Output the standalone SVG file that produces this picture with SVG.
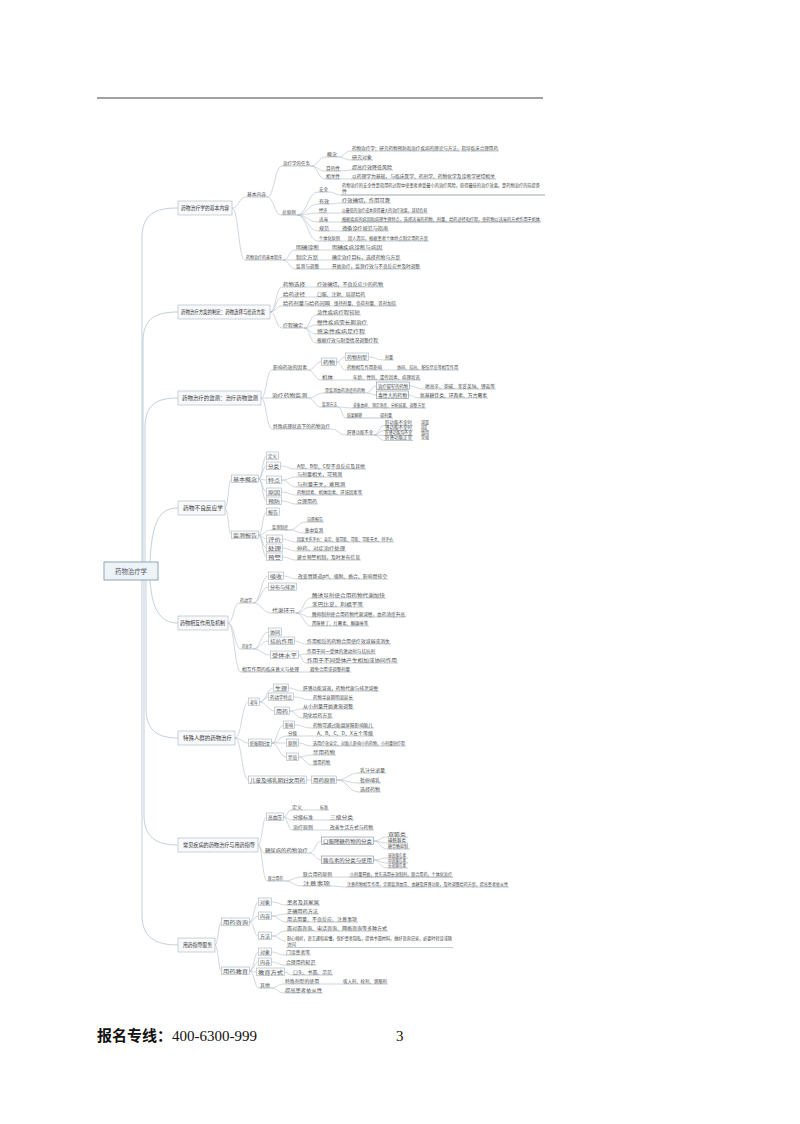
<svg xmlns="http://www.w3.org/2000/svg" width="800" height="1124" viewBox="0 0 800 1124">
<style>
text{font-family:"Noto Sans CJK SC","Noto Sans",sans-serif;fill:#4a4a4a;font-size:5px}
.t1{font-size:5.5px;fill:#383838}
.t4{font-size:4.2px}
.u{stroke:#a3b1bd;stroke-width:0.7;fill:none}
.uk{stroke:#9aa6b0;stroke-width:1.1;fill:none}
.b{fill:#fbfcfd;stroke:#a6b3be;stroke-width:0.6}
.B{fill:#f7f9fa;stroke:#b5c1ca;stroke-width:0.7}
.c{fill:none;stroke:#b0bcc6;stroke-width:0.6}
.r{fill:none;stroke:#a9bccb;stroke-width:0.7}
</style>
<rect width="800" height="1124" fill="#ffffff"/>
<line x1="97" y1="98" x2="543" y2="98" stroke="#444" stroke-width="1.2"/>

<g id="connectors">
<path class="r" d="M142 562V238C142 214 155 208 178 208M143 562V342C143 318 156 312 178 312M145 562V428C145 404 157 398 178 398M150 562C152 520 160 508 178 508M150 580C152 612 162 623 178 623M146 580V708C146 730 157 738 178 738M144 580V815C144 837 156 845 178 845M142 580V915C142 937 155 945 178 945"/>
<path class="c" d="M232 208C239 208 239 197 246 197M232 208C238.5 208 238.5 260 245 260M267 197C274.5 197 274.5 166 282 166M267 197C274 197 274 215 281 215M311 166C318 166 318 157 326 157M311 166C318 166 318 171 325 171M311 166C318 166 318 179 325 179M338 157C344.5 157 344.5 151 351 151M338 157C344.5 157 344.5 160 351 160M341 171C346 171 346 170 351 170M341 179H351M297 215C307.5 215 307.5 192 318 192M297 215C307.5 215 307.5 204 318 204M297 215C307.5 215 307.5 213 318 213M297 215C307.5 215 307.5 222 318 222M297 215C307.5 215 307.5 231 318 231M297 215C307.5 215 307.5 241 318 241M329 192C335 192 335 195 341 195M330 204C335.5 204 335.5 203 341 203M328 213H341M329 222H341M330 231H341M341 241H347M283 260C289 260 289 250 295 250M283 260H295M283 260C289 260 289 269 295 269M320 250H331M319 260H331M320 269H331"/>
<path class="c" d="M270 312C276 312 276 287 282 287M270 312C276 312 276 297 282 297M270 312C276 312 276 306 282 306M270 312C276 312 276 328 282 328M306 287H316M306 297H316M331 306H333M304 328C310 328 310 315 316 315M304 328C310 328 310 325 316 325M304 328C310 328 310 334 316 334M304 328C310 328 310 343 316 343"/>
<path class="c" d="M261 398C266.5 398 266.5 370 272 370M261 398H271M261 398C266.5 398 266.5 429 272 429M308 370C314.75 370 314.75 362 321.5 362M308 370C314.5 370 314.5 380 321 380M336.5 362C341 362 341 357 345.5 357M336.5 362C341 362 341 370 346 370M368.5 357C376 357 376 360 384 360M383 370H396M334 380H352M308 398C316 398 316 393 324 393M308 398C314.5 398 314.5 407 321 407M366 393C371 393 371 386 376.5 386M366 393C371 393 371 395 376.5 395M409.5 386C416.5 386 416.5 389 424 389M408.5 395C413.5 395 413.5 398 419 398M338 407C345 407 345 408 352 408M338 407C342 407 342 418 346 418M331 429C338.5 429 338.5 435 346 435M374 435C379 435 379 425.5 384 425.5M374 435C379 435 379 430.5 384 430.5M374 435C379 435 379 435.5 384 435.5M374 435C379 435 379 440.5 384 440.5"/>
<path class="c" d="M225 508C228.25 508 228.25 479 231.5 479M225 508C228.25 508 228.25 535 231.5 535M258.5 479C262.5 479 262.5 456 266.5 456M258.5 479C262.5 479 262.5 466 266.5 466M258.5 479C262.5 479 262.5 480 266.5 480M258.5 479C262.5 479 262.5 492 266.5 492M258.5 479C262.5 479 262.5 501 266.5 501M280.5 466C288 466 288 469 296 469M281.5 480C289 480 289 477 296 477M281.5 480C289 480 289 487 296 487M281.5 492C289 492 289 495 296 495M281.5 501C289 501 289 504 296 504M258.5 535C262.5 535 262.5 512 266.5 512M258.5 535C264.75 535 264.75 530 271 530M258.5 535C262.5 535 262.5 539 266.5 539M258.5 535C262.5 535 262.5 548 266.5 548M258.5 535C262.5 535 262.5 557 266.5 557M289 530C297.5 530 297.5 522 306 522M289 530C296.5 530 296.5 533 304 533M282.5 539C289 539 289 542 296 542M282.5 548C289 548 289 551 296 551M282.5 557C289 557 289 560 296 560"/>
<path class="c" d="M228 623C233.5 623 233.5 603 239 603M228 623C234.5 623 234.5 649 241 649M228 623C234.5 623 234.5 672 241 672M253 603C260.75 603 260.75 576 268.5 576M253 603C260.75 603 260.75 587 268.5 587M253 603C262 603 262 613 271 613M283.5 576C290 576 290 579 297 579M296 613C303.5 613 303.5 598 311 598M296 613C303.5 613 303.5 607 311 607M296 613C303.5 613 303.5 617 311 617M296 613C303.5 613 303.5 626 311 626M253 649C260.75 649 260.75 632 268.5 632M253 649C260.75 649 260.75 641 268.5 641M253 649C261.75 649 261.75 655 270.5 655M294.5 641C300 641 300 644 306 644M298.5 655C302 655 302 654 306 654M298.5 655C302 655 302 663 306 663M300 672H309"/>
<path class="c" d="M235 738C241.75 738 241.75 702 248.5 702M235 738C241.75 738 241.75 743 248.5 743M235 738C241.75 738 241.75 780 248.5 780M259.5 702C266.5 702 266.5 688 273.5 688M259.5 702C264 702 264 697 268.5 697M259.5 702C267 702 267 711 274.5 711M288.5 688C295 688 295 691 302 691M293.5 697C303 697 303 700 312 700M289.5 711C296 711 296 709 302 709M289.5 711C296 711 296 718 302 718M271.5 743C277.5 743 277.5 725 283.5 725M271.5 743C279 743 279 736 287 736M271.5 743H286.5M271.5 743C279 743 279 757 286.5 757M294.5 725C303 725 303 728 312 728M298 736H316M298.5 743C305 743 305 746 312 746M298.5 757C305 757 305 755 312 755M298.5 757C305 757 305 765 312 765M306.5 780H311.5M336.5 780C348 780 348 773 359 773M336.5 780C348 780 348 783 359 783M336.5 780C348 780 348 792 359 792"/>
<path class="c" d="M258 845C262.25 845 262.25 817 266.5 817M258 845C261 845 261 853 264 853M258 845C262.5 845 262.5 881 267 881M283.5 817C287.25 817 287.25 810 291 810M283.5 817C287.75 817 287.75 820 292 820M283.5 817C287.75 817 287.75 830 292 830M303 810H319M314 820H329M314 830H329M309 853C315.25 853 315.25 841 321.5 841M309 853C315.25 853 315.25 860 321.5 860M373.5 841C380 841 380 837 387 837M373.5 841C380 841 380 843 387 843M373.5 841C380 841 380 849 387 849M373.5 860C380 860 380 858 387 858M373.5 860C380 860 380 863 387 863M373.5 860C380 860 380 868 387 868M284 881C293 881 293 877 302 877M284 881C293 881 293 886 302 886M333 877H349M331 886C338.5 886 338.5 887 346 887"/>
<path class="c" d="M215 945C218.25 945 218.25 922 221.5 922M215 945C218.25 945 218.25 971 221.5 971M249.5 922C254 922 254 902 258.5 902M249.5 922C254 922 254 916 258.5 916M249.5 922C254 922 254 936 258.5 936M271.5 902C279 902 279 905 286 905M271.5 916C279 916 279 914 286 914M271.5 916C279 916 279 922 286 922M271.5 936C279 936 279 931 286 931M271.5 936C279 936 279 941 286 941M249.5 971C254 971 254 952 258.5 952M249.5 971C254 971 254 962 258.5 962M249.5 971C253 971 253 972 256.5 972M249.5 971C254.25 971 254.25 988 259 988M271.5 952C278 952 278 955 285 955M271.5 962C278 962 278 965 285 965M284.5 972C288 972 288 975 292 975M271 988C277.5 988 277.5 984 284 984M271 988C277.5 988 277.5 993 284 993M320 984H342"/>
</g>

<g id="root"><rect x="104" y="562" width="54" height="18" fill="#eef3f7" stroke="#8ea5b8" stroke-width="1"/><text x="115" y="574" style="font-size:7px;fill:#556" textLength="32" lengthAdjust="spacingAndGlyphs">药物治疗学</text></g>

<!-- Branch 1 -->
<g id="n1"><rect class="B" x="178" y="201" width="54" height="14"/><text class="t1" x="181" y="210" textLength="48" lengthAdjust="spacingAndGlyphs">药物治疗学的基本内容</text></g>
<g id="n1a"><text x="247" y="195.8" textLength="19" lengthAdjust="spacingAndGlyphs">基本内容</text><path class="u" d="M246 197H267"/></g>
<g id="n1a1"><text x="283" y="164.8" textLength="27" lengthAdjust="spacingAndGlyphs">治疗学的任务</text><path class="u" d="M282 166H311"/></g>
<g id="n1a1a"><text x="327" y="155.8" textLength="10" lengthAdjust="spacingAndGlyphs">概念</text><path class="u" d="M326 157H338"/></g>
<g id="l1a"><text x="352" y="149.8" textLength="146" lengthAdjust="spacingAndGlyphs">药物治疗学：研究药物预防和治疗疾病的理论与方法，指导临床合理用药</text><path class="u" d="M351 151H499"/></g>
<g id="l1b"><text x="352" y="158.8" textLength="20" lengthAdjust="spacingAndGlyphs">研究对象</text><path class="u" d="M351 160H373"/></g>
<g id="n1a1b"><text x="326" y="169.8" textLength="14" lengthAdjust="spacingAndGlyphs">目的性</text><path class="u" d="M325 171H341"/></g>
<g id="l1c"><text x="352" y="168.8" textLength="40" lengthAdjust="spacingAndGlyphs">提高疗效降低风险</text><path class="u" d="M351 170H393"/></g>
<g id="n1a1c"><text x="326" y="177.8" textLength="14" lengthAdjust="spacingAndGlyphs">相关性</text><path class="u" d="M325 179H341"/></g>
<g id="l1d"><text x="352" y="177.8" textLength="143" lengthAdjust="spacingAndGlyphs">以药理学为基础，与临床医学、药剂学、药物化学及诊断学密切相关</text><path class="u" d="M351 179H496"/></g>
<g id="n1a2"><text x="282" y="213.8" textLength="14" lengthAdjust="spacingAndGlyphs">总原则</text><path class="u" d="M281 215H297"/></g>
<g id="n1c1"><text x="319" y="190.8" textLength="9" lengthAdjust="spacingAndGlyphs">安全</text><path class="u" d="M318 192H329"/></g>
<g id="n1c2"><text x="319" y="202.8" textLength="10" lengthAdjust="spacingAndGlyphs">有效</text><path class="u" d="M318 204H330"/></g>
<g id="n1c3"><text x="319" y="211.8" textLength="8" lengthAdjust="spacingAndGlyphs">经济</text><path class="u" d="M318 213H328"/></g>
<g id="n1c4"><text x="319" y="220.8" textLength="9" lengthAdjust="spacingAndGlyphs">适当</text><path class="u" d="M318 222H329"/></g>
<g id="n1c5"><text x="319" y="229.8" textLength="10" lengthAdjust="spacingAndGlyphs">规范</text><path class="u" d="M318 231H330"/></g>
<g id="n1c6"><text x="319" y="239.8" textLength="21" lengthAdjust="spacingAndGlyphs">个体化原则</text><path class="u" d="M318 241H341"/></g>
<g id="l1e"><text x="342" y="186.8" textLength="198" lengthAdjust="spacingAndGlyphs">药物治疗的安全性是指用药过程中使患者承受最小的治疗风险，获得最佳的治疗效果，是药物治疗的前提条</text><text x="342" y="192.8" textLength="5" lengthAdjust="spacingAndGlyphs">件</text><path class="uk" d="M341 195H545"/></g>
<g id="l1f"><text x="342" y="201.8" textLength="48" lengthAdjust="spacingAndGlyphs">疗效确切，作用可靠</text><path class="u" d="M341 203H391"/></g>
<g id="l1g"><text x="342" y="211.8" textLength="85" lengthAdjust="spacingAndGlyphs">以最低的治疗成本获得最大的治疗效果，减轻负担</text><path class="u" d="M341 213H428"/></g>
<g id="l1h"><text x="342" y="220.8" textLength="198" lengthAdjust="spacingAndGlyphs">根据疾病的病因和病理生理特点，选择适当的药物、剂量、给药途径和疗程，使药物以适当的方式作用于机体</text><path class="uk" d="M341 222H541"/></g>
<g id="l1i"><text x="342" y="229.8" textLength="46" lengthAdjust="spacingAndGlyphs">遵循诊疗规范与指南</text><path class="u" d="M341 231H389"/></g>
<g id="l1j"><text x="348" y="239.8" textLength="80" lengthAdjust="spacingAndGlyphs">因人而异，根据患者个体特点制定用药方案</text><path class="u" d="M347 241H429"/></g>
<g id="n1b"><text x="246" y="258.8" textLength="36" lengthAdjust="spacingAndGlyphs">药物治疗的基本程序</text><path class="u" d="M245 260H283"/></g>
<g id="n1b1"><text x="296" y="248.8" textLength="23" lengthAdjust="spacingAndGlyphs">明确诊断</text><path class="u" d="M295 250H320"/></g>
<g id="n1b2"><text x="296" y="258.8" textLength="22" lengthAdjust="spacingAndGlyphs">制定方案</text><path class="u" d="M295 260H319"/></g>
<g id="n1b3"><text x="296" y="267.8" textLength="23" lengthAdjust="spacingAndGlyphs">监测与调整</text><path class="u" d="M295 269H320"/></g>
<g id="l1k"><text x="332" y="248.8" textLength="50" lengthAdjust="spacingAndGlyphs">明确疾病诊断与病因</text><path class="u" d="M331 250H383"/></g>
<g id="l1l"><text x="332" y="258.8" textLength="68" lengthAdjust="spacingAndGlyphs">确定治疗目标，选择药物与方案</text><path class="u" d="M331 260H401"/></g>
<g id="l1m"><text x="332" y="267.8" textLength="88" lengthAdjust="spacingAndGlyphs">开始治疗，监测疗效与不良反应并及时调整</text><path class="u" d="M331 269H421"/></g>

<!-- Branch 2 -->
<g id="n2"><rect class="B" x="178" y="305" width="92" height="14"/><text class="t1" x="181" y="314" textLength="84" lengthAdjust="spacingAndGlyphs">药物治疗方案的制定：药物选择与给药方案</text></g>
<g id="n2a"><text x="283" y="285.8" textLength="22" lengthAdjust="spacingAndGlyphs">药物选择</text><path class="u" d="M282 287H306"/></g>
<g id="n2b"><text x="283" y="295.8" textLength="22" lengthAdjust="spacingAndGlyphs">给药途径</text><path class="u" d="M282 297H306"/></g>
<g id="n2c"><text x="283" y="304.8" textLength="47" lengthAdjust="spacingAndGlyphs">给药剂量与给药间隔</text><path class="u" d="M282 306H331"/></g>
<g id="n2d"><text x="283" y="326.8" textLength="20" lengthAdjust="spacingAndGlyphs">疗程确定</text><path class="u" d="M282 328H304"/></g>
<g id="l2a"><text x="317" y="285.8" textLength="66" lengthAdjust="spacingAndGlyphs">疗效确切，不良反应少的药物</text><path class="u" d="M316 287H384"/></g>
<g id="l2b"><text x="317" y="295.8" textLength="48" lengthAdjust="spacingAndGlyphs">口服、注射、局部给药</text><path class="u" d="M316 297H366"/></g>
<g id="l2c"><text x="334" y="304.8" textLength="62" lengthAdjust="spacingAndGlyphs">维持剂量、负荷剂量、首剂加倍</text><path class="u" d="M333 306H397"/></g>
<g id="l2d"><text x="317" y="313.8" textLength="43" lengthAdjust="spacingAndGlyphs">急性疾病疗程较短</text><path class="u" d="M316 315H361"/></g>
<g id="l2e"><text x="317" y="323.8" textLength="50" lengthAdjust="spacingAndGlyphs">慢性疾病需长期治疗</text><path class="u" d="M316 325H368"/></g>
<g id="l2f"><text x="317" y="332.8" textLength="48" lengthAdjust="spacingAndGlyphs">感染性疾病足疗程</text><path class="u" d="M316 334H366"/></g>
<g id="l2g"><text x="317" y="341.8" textLength="61" lengthAdjust="spacingAndGlyphs">根据疗效与耐受情况调整疗程</text><path class="u" d="M316 343H379"/></g>

<!-- Branch 3 -->
<g id="n3"><rect class="B" x="178" y="391" width="83" height="14"/><text class="t1" x="182" y="400" textLength="76" lengthAdjust="spacingAndGlyphs">药物治疗的监测：治疗药物监测</text></g>
<g id="n3a"><text x="273" y="368.8" textLength="34" lengthAdjust="spacingAndGlyphs">影响药效的因素</text><path class="u" d="M272 370H308"/></g>
<g id="n3a1"><rect class="b" x="321.5" y="358" width="15" height="7.5"/><text x="323" y="363.8" textLength="12" lengthAdjust="spacingAndGlyphs">药物</text></g>
<g id="n3a1a"><rect class="b" x="345.5" y="353" width="23" height="7.5"/><text x="347" y="358.8" textLength="20" lengthAdjust="spacingAndGlyphs">药物剂型</text></g>
<g id="l3a"><text x="385" y="358.8" textLength="8" lengthAdjust="spacingAndGlyphs">剂量</text><path class="u" d="M384 360H394"/></g>
<g id="n3a1b"><text x="347" y="368.8" textLength="35" lengthAdjust="spacingAndGlyphs">药物相互作用影响</text><path class="u" d="M346 370H383"/></g>
<g id="l3b"><text x="397" y="368.8" textLength="61" lengthAdjust="spacingAndGlyphs">协同、拮抗、配伍禁忌等相互作用</text><path class="u" d="M396 370H459"/></g>
<g id="n3a2"><text x="322" y="378.8" textLength="11" lengthAdjust="spacingAndGlyphs">机体</text><path class="u" d="M321 380H334"/></g>
<g id="l3c"><text x="353" y="378.8" textLength="67" lengthAdjust="spacingAndGlyphs">年龄、性别、遗传因素、病理状态</text><path class="u" d="M352 380H421"/></g>
<g id="n3b"><text x="272" y="396.8" textLength="35" lengthAdjust="spacingAndGlyphs">治疗药物监测</text><path class="u" d="M271 398H308"/></g>
<g id="n3b1"><text x="325" y="391.8" textLength="40" lengthAdjust="spacingAndGlyphs">需监测血药浓度的药物</text><path class="u" d="M324 393H366"/></g>
<g id="n3b1a"><rect class="b" x="376.5" y="382" width="33" height="7.5" style="stroke:#7f8c97"/><text x="378" y="387.8" textLength="30" lengthAdjust="spacingAndGlyphs">治疗窗窄的药物</text></g>
<g id="n3b1b"><rect class="b" x="376.5" y="391" width="32" height="7.5" style="stroke:#7f8c97"/><text x="378" y="396.8" textLength="29" lengthAdjust="spacingAndGlyphs">毒性大的药物</text></g>
<g id="l3d"><text x="425" y="387.8" textLength="70" lengthAdjust="spacingAndGlyphs">地高辛、茶碱、苯妥英钠、锂盐等</text><path class="u" d="M424 389H496"/></g>
<g id="l3e"><text x="420" y="396.8" textLength="67" lengthAdjust="spacingAndGlyphs">氨基糖苷类、环孢素、万古霉素</text><path class="u" d="M419 398H488"/></g>
<g id="n3b2"><text x="322" y="405.8" textLength="15" lengthAdjust="spacingAndGlyphs">监测方法</text><path class="u" d="M321 407H338"/></g>
<g id="l3f"><text x="353" y="406.8" textLength="72" lengthAdjust="spacingAndGlyphs">采集血样、测定浓度、分析结果、调整方案</text><path class="u" d="M352 408H426"/></g>
<g id="l3g"><text x="347" y="416.8" textLength="15" lengthAdjust="spacingAndGlyphs">结果解释</text><text x="380" y="416.8" textLength="12" lengthAdjust="spacingAndGlyphs">调剂量</text><path class="u" d="M346 418H393"/></g>
<g id="n3c"><text x="273" y="427.8" textLength="57" lengthAdjust="spacingAndGlyphs">特殊病理状态下的药物治疗</text><path class="u" d="M272 429H331"/></g>
<g id="n3c1"><text x="347" y="433.8" textLength="26" lengthAdjust="spacingAndGlyphs">肝肾功能不全</text><path class="u" d="M346 435H374"/></g>
<g id="l3h"><text class="t4" x="385" y="424.3" textLength="27" lengthAdjust="spacingAndGlyphs">肝功能不全时</text><text class="t4" x="421" y="424.3" textLength="8" lengthAdjust="spacingAndGlyphs">减量</text><path class="u" d="M384 425.5H413"/></g>
<g id="l3i"><text class="t4" x="385" y="429.3" textLength="27" lengthAdjust="spacingAndGlyphs">肾功能不全时</text><text class="t4" x="421" y="429.3" textLength="6" lengthAdjust="spacingAndGlyphs">减量</text><path class="u" d="M384 430.5H413"/></g>
<g id="l3j"><text class="t4" x="385" y="434.3" textLength="27" lengthAdjust="spacingAndGlyphs">肝肾功能均不全</text><text class="t4" x="421" y="434.3" textLength="8" lengthAdjust="spacingAndGlyphs">慎用</text><path class="u" d="M384 435.5H413"/></g>
<g id="l3k"><text class="t4" x="385" y="439.3" textLength="27" lengthAdjust="spacingAndGlyphs">肝肾功能正常</text><text class="t4" x="421" y="439.3" textLength="8" lengthAdjust="spacingAndGlyphs">常规</text><path class="u" d="M384 440.5H413"/></g>

<!-- Branch 4 -->
<g id="n4"><rect class="B" x="178" y="501" width="47" height="14"/><text class="t1" x="183" y="510" textLength="40" lengthAdjust="spacingAndGlyphs">药物不良反应学</text></g>
<g id="n4a"><rect class="b" x="231.5" y="475" width="27" height="7.5"/><text x="233" y="480.8" textLength="24" lengthAdjust="spacingAndGlyphs">基本概念</text></g>
<g id="n4a1"><rect class="b" x="266.5" y="452" width="12" height="7.5"/><text x="268" y="457.8" textLength="9" lengthAdjust="spacingAndGlyphs">定义</text></g>
<g id="n4a2"><rect class="b" x="266.5" y="462" width="14" height="7.5"/><text x="268" y="467.8" textLength="11" lengthAdjust="spacingAndGlyphs">分类</text></g>
<g id="n4a3"><rect class="b" x="266.5" y="476" width="15" height="7.5"/><text x="268" y="481.8" textLength="12" lengthAdjust="spacingAndGlyphs">特点</text></g>
<g id="n4a4"><rect class="b" x="266.5" y="488" width="15" height="7.5"/><text x="268" y="493.8" textLength="12" lengthAdjust="spacingAndGlyphs">原因</text></g>
<g id="n4a5"><rect class="b" x="266.5" y="497" width="15" height="7.5"/><text x="268" y="502.8" textLength="12" lengthAdjust="spacingAndGlyphs">预防</text></g>
<g id="l4a"><text x="297" y="467.8" textLength="68" lengthAdjust="spacingAndGlyphs">A型、B型、C型不良反应及其他</text><path class="u" d="M296 469H366"/></g>
<g id="l4b"><text x="297" y="475.8" textLength="45" lengthAdjust="spacingAndGlyphs">与剂量相关，可预测</text><path class="u" d="M296 477H343"/></g>
<g id="l4c"><text x="297" y="485.8" textLength="48" lengthAdjust="spacingAndGlyphs">与剂量无关，难预测</text><path class="u" d="M296 487H346"/></g>
<g id="l4d"><text x="297" y="493.8" textLength="65" lengthAdjust="spacingAndGlyphs">药物因素、机体因素、环境因素等</text><path class="u" d="M296 495H363"/></g>
<g id="l4e"><text x="297" y="502.8" textLength="20" lengthAdjust="spacingAndGlyphs">合理用药</text><path class="u" d="M296 504H318"/></g>
<g id="n4b"><rect class="b" x="231.5" y="531" width="27" height="7.5"/><text x="233" y="536.8" textLength="24" lengthAdjust="spacingAndGlyphs">监测报告</text></g>
<g id="n4b1"><rect class="b" x="266.5" y="508" width="13" height="7.5"/><text x="268" y="513.8" textLength="10" lengthAdjust="spacingAndGlyphs">报告</text></g>
<g id="n4b2"><text x="272" y="528.8" textLength="16" lengthAdjust="spacingAndGlyphs">监测制度</text><path class="u" d="M271 530H289"/></g>
<g id="l4f"><text x="307" y="520.8" textLength="16" lengthAdjust="spacingAndGlyphs">自愿报告</text><path class="u" d="M306 522H324"/></g>
<g id="l4g"><text x="305" y="531.8" textLength="18" lengthAdjust="spacingAndGlyphs">集中监测</text><path class="u" d="M304 533H324"/></g>
<g id="n4b3"><rect class="b" x="266.5" y="535" width="16" height="7.5"/><text x="268" y="540.8" textLength="13" lengthAdjust="spacingAndGlyphs">评价</text></g>
<g id="n4b4"><rect class="b" x="266.5" y="544" width="16" height="7.5"/><text x="268" y="549.8" textLength="13" lengthAdjust="spacingAndGlyphs">处理</text></g>
<g id="n4b5"><rect class="b" x="266.5" y="553" width="16" height="7.5"/><text x="268" y="558.8" textLength="13" lengthAdjust="spacingAndGlyphs">预警</text></g>
<g id="l4h"><text x="297" y="540.8" textLength="96" lengthAdjust="spacingAndGlyphs">因果关系评价：肯定、很可能、可能、可能无关、待评价</text><path class="u" d="M296 542H394"/></g>
<g id="l4i"><text x="297" y="549.8" textLength="48" lengthAdjust="spacingAndGlyphs">停药、对症治疗处理</text><path class="u" d="M296 551H346"/></g>
<g id="l4j"><text x="297" y="558.8" textLength="63" lengthAdjust="spacingAndGlyphs">建立预警机制，及时发布信息</text><path class="u" d="M296 560H361"/></g>

<!-- Branch 5 -->
<g id="n5"><rect class="B" x="178" y="616" width="50" height="14"/><text class="t1" x="180" y="625" textLength="45" lengthAdjust="spacingAndGlyphs">药物相互作用及机制</text></g>
<g id="n5a"><text x="240" y="601.8" textLength="12" lengthAdjust="spacingAndGlyphs">药动学</text><path class="u" d="M239 603H253"/></g>
<g id="n5a1"><rect class="b" x="268.5" y="572" width="15" height="7.5"/><text x="270" y="577.8" textLength="12" lengthAdjust="spacingAndGlyphs">吸收</text></g>
<g id="n5a2"><rect class="b" x="268.5" y="583" width="28" height="7.5"/><text x="270" y="588.8" textLength="25" lengthAdjust="spacingAndGlyphs">分布与排泄</text></g>
<g id="n5a3"><text x="272" y="611.8" textLength="23" lengthAdjust="spacingAndGlyphs">代谢环节</text><path class="u" d="M271 613H296"/></g>
<g id="l5a"><text x="298" y="577.8" textLength="89" lengthAdjust="spacingAndGlyphs">改变胃肠道pH、吸附、络合、影响胃排空</text><path class="u" d="M297 579H388"/></g>
<g id="l5b"><text x="312" y="596.8" textLength="73" lengthAdjust="spacingAndGlyphs">酶诱导剂使合用药物代谢加快</text><path class="u" d="M311 598H386"/></g>
<g id="l5c"><text x="312" y="605.8" textLength="51" lengthAdjust="spacingAndGlyphs">苯巴比妥、利福平等</text><path class="u" d="M311 607H364"/></g>
<g id="l5d"><text x="312" y="615.8" textLength="93" lengthAdjust="spacingAndGlyphs">酶抑制剂使合用药物代谢减慢，血药浓度升高</text><path class="u" d="M311 617H406"/></g>
<g id="l5e"><text x="312" y="624.8" textLength="56" lengthAdjust="spacingAndGlyphs">西咪替丁、红霉素、酮康唑等</text><path class="u" d="M311 626H369"/></g>
<g id="n5b"><text x="242" y="647.8" textLength="10" lengthAdjust="spacingAndGlyphs">药效学</text><path class="u" d="M241 649H253"/></g>
<g id="n5b1"><rect class="b" x="268.5" y="628" width="13" height="7.5"/><text x="270" y="633.8" textLength="10" lengthAdjust="spacingAndGlyphs">协同</text></g>
<g id="n5b2"><rect class="b" x="268.5" y="637" width="26" height="7.5"/><text x="270" y="642.8" textLength="23" lengthAdjust="spacingAndGlyphs">拮抗作用</text></g>
<g id="n5b3"><rect class="b" x="270.5" y="651" width="28" height="7.5"/><text x="272" y="656.8" textLength="25" lengthAdjust="spacingAndGlyphs">受体水平</text></g>
<g id="l5f"><text x="307" y="642.8" textLength="83" lengthAdjust="spacingAndGlyphs">作用相反的药物合用使疗效减弱或消失</text><path class="u" d="M306 644H391"/></g>
<g id="l5g"><text x="307" y="652.8" textLength="68" lengthAdjust="spacingAndGlyphs">作用于同一受体的激动剂与拮抗剂</text><path class="u" d="M306 654H376"/></g>
<g id="l5h"><text x="307" y="661.8" textLength="90" lengthAdjust="spacingAndGlyphs">作用于不同受体产生相加或协同作用</text><path class="u" d="M306 663H398"/></g>
<g id="n5c"><text x="242" y="670.8" textLength="57" lengthAdjust="spacingAndGlyphs">相互作用的临床意义与处理</text><path class="u" d="M241 672H300"/></g>
<g id="l5i"><text x="310" y="670.8" textLength="40" lengthAdjust="spacingAndGlyphs">避免合用或调整剂量</text><path class="u" d="M309 672H351"/></g>

<!-- Branch 6 -->
<g id="n6"><rect class="B" x="178" y="731" width="57" height="14"/><text class="t1" x="183" y="740" textLength="49" lengthAdjust="spacingAndGlyphs">特殊人群的药物治疗</text></g>
<g id="n6a"><rect class="b" x="248.5" y="698" width="11" height="7.5"/><text x="250" y="703.8" textLength="8" lengthAdjust="spacingAndGlyphs">老年</text></g>
<g id="n6a1"><rect class="b" x="273.5" y="684" width="15" height="7.5"/><text x="275" y="689.8" textLength="12" lengthAdjust="spacingAndGlyphs">生理</text></g>
<g id="n6a2"><rect class="b" x="268.5" y="693" width="25" height="7.5"/><text x="270" y="698.8" textLength="22" lengthAdjust="spacingAndGlyphs">药动学特点</text></g>
<g id="n6a3"><rect class="b" x="274.5" y="707" width="15" height="7.5"/><text x="276" y="712.8" textLength="12" lengthAdjust="spacingAndGlyphs">用药</text></g>
<g id="l6a"><text x="303" y="689.8" textLength="75" lengthAdjust="spacingAndGlyphs">肝肾功能减退，药物代谢与排泄减慢</text><path class="u" d="M302 691H379"/></g>
<g id="l6b"><text x="313" y="698.8" textLength="40" lengthAdjust="spacingAndGlyphs">药物半衰期明显延长</text><path class="u" d="M312 700H354"/></g>
<g id="l6c"><text x="303" y="707.8" textLength="50" lengthAdjust="spacingAndGlyphs">从小剂量开始逐渐调整</text><path class="u" d="M302 709H354"/></g>
<g id="l6d"><text x="303" y="716.8" textLength="29" lengthAdjust="spacingAndGlyphs">简化给药方案</text><path class="u" d="M302 718H333"/></g>
<g id="n6b"><rect class="b" x="248.5" y="739" width="23" height="7.5"/><text x="250" y="744.8" textLength="20" lengthAdjust="spacingAndGlyphs">妊娠期妇女</text></g>
<g id="n6b1"><rect class="b" x="283.5" y="721" width="11" height="7.5"/><text x="285" y="726.8" textLength="8" lengthAdjust="spacingAndGlyphs">影响</text></g>
<g id="n6b2"><text x="288" y="734.8" textLength="9" lengthAdjust="spacingAndGlyphs">分级</text><path class="u" d="M287 736H298"/></g>
<g id="n6b3"><rect class="b" x="286.5" y="739" width="12" height="7.5"/><text x="288" y="744.8" textLength="9" lengthAdjust="spacingAndGlyphs">原则</text></g>
<g id="n6b4"><rect class="b" x="286.5" y="753" width="12" height="7.5"/><text x="288" y="758.8" textLength="9" lengthAdjust="spacingAndGlyphs">禁忌</text></g>
<g id="l6e"><text x="313" y="726.8" textLength="60" lengthAdjust="spacingAndGlyphs">药物可通过胎盘屏障影响胎儿</text><path class="u" d="M312 728H374"/></g>
<g id="l6f"><text x="317" y="734.8" textLength="56" lengthAdjust="spacingAndGlyphs">A、B、C、D、X五个等级</text><path class="u" d="M316 736H374"/></g>
<g id="l6g"><text x="313" y="744.8" textLength="92" lengthAdjust="spacingAndGlyphs">选用疗效肯定、对胎儿影响小的药物，小剂量短疗程</text><path class="u" d="M312 746H406"/></g>
<g id="l6h"><text x="313" y="753.8" textLength="22" lengthAdjust="spacingAndGlyphs">禁用药物</text><path class="u" d="M312 755H336"/></g>
<g id="l6i"><text x="313" y="763.8" textLength="17" lengthAdjust="spacingAndGlyphs">慎用药物</text><path class="u" d="M312 765H331"/></g>
<g id="n6c"><rect class="b" x="248.5" y="776" width="58" height="7.5"/><text x="250" y="781.8" textLength="55" lengthAdjust="spacingAndGlyphs">儿童及哺乳期妇女用药</text></g>
<g id="n6c1"><rect class="b" x="311.5" y="776" width="25" height="7.5"/><text x="313" y="781.8" textLength="22" lengthAdjust="spacingAndGlyphs">用药原则</text></g>
<g id="l6j"><text x="360" y="771.8" textLength="25" lengthAdjust="spacingAndGlyphs">乳汁分泌量</text><path class="u" d="M359 773H386"/></g>
<g id="l6k"><text x="360" y="781.8" textLength="20" lengthAdjust="spacingAndGlyphs">暂停哺乳</text><path class="u" d="M359 783H381"/></g>
<g id="l6l"><text x="360" y="790.8" textLength="20" lengthAdjust="spacingAndGlyphs">选择药物</text><path class="u" d="M359 792H381"/></g>

<!-- Branch 7 -->
<g id="n7"><rect class="B" x="178" y="838" width="80" height="14"/><text class="t1" x="183" y="847" textLength="72" lengthAdjust="spacingAndGlyphs">常见疾病的药物治疗与用药指导</text></g>
<g id="n7a"><rect class="b" x="266.5" y="813" width="17" height="7.5"/><text x="268" y="818.8" textLength="14" lengthAdjust="spacingAndGlyphs">高血压</text></g>
<g id="n7a1"><text x="292" y="808.8" textLength="10" lengthAdjust="spacingAndGlyphs">定义</text><path class="u" d="M291 810H303"/></g>
<g id="n7a2"><text x="293" y="818.8" textLength="20" lengthAdjust="spacingAndGlyphs">分级标准</text><path class="u" d="M292 820H314"/></g>
<g id="n7a3"><text x="293" y="828.8" textLength="20" lengthAdjust="spacingAndGlyphs">治疗原则</text><path class="u" d="M292 830H314"/></g>
<g id="l7a"><text x="320" y="808.8" textLength="8" lengthAdjust="spacingAndGlyphs">标准</text><path class="u" d="M319 810H329"/></g>
<g id="l7b"><text x="330" y="818.8" textLength="23" lengthAdjust="spacingAndGlyphs">三级分类</text><path class="u" d="M329 820H354"/></g>
<g id="l7c"><text x="330" y="828.8" textLength="43" lengthAdjust="spacingAndGlyphs">改善生活方式与药物</text><path class="u" d="M329 830H374"/></g>
<g id="n7b"><text x="265" y="851.8" textLength="43" lengthAdjust="spacingAndGlyphs">糖尿病的药物治疗</text><path class="u" d="M264 853H309"/></g>
<g id="n7b1"><rect class="b" x="321.5" y="837" width="52" height="7.5" style="stroke:#7f8c97"/><text x="323" y="842.8" textLength="49" lengthAdjust="spacingAndGlyphs">口服降糖药物的分类</text></g>
<g id="n7b2"><rect class="b" x="321.5" y="856" width="52" height="7.5" style="stroke:#7f8c97"/><text x="323" y="861.8" textLength="49" lengthAdjust="spacingAndGlyphs">胰岛素的分类与使用</text></g>
<g id="l7d"><text class="t4" x="388" y="835.5" textLength="18" lengthAdjust="spacingAndGlyphs">双胍类</text><path class="u" d="M387 837H408"/></g>
<g id="l7e"><text class="t4" x="388" y="841.5" textLength="18" lengthAdjust="spacingAndGlyphs">磺酰脲类</text><path class="u" d="M387 843H408"/></g>
<g id="l7f"><text class="t4" x="388" y="847.5" textLength="20" lengthAdjust="spacingAndGlyphs">糖苷酶抑制</text><path class="u" d="M387 849H410"/></g>
<g id="l7g"><text class="t4" x="388" y="856.5" textLength="18" lengthAdjust="spacingAndGlyphs">速效胰岛素</text><path class="u" d="M387 858H408"/></g>
<g id="l7h"><text class="t4" x="388" y="861.5" textLength="18" lengthAdjust="spacingAndGlyphs">中效胰岛素</text><path class="u" d="M387 863H408"/></g>
<g id="l7i"><text class="t4" x="388" y="866.5" textLength="18" lengthAdjust="spacingAndGlyphs">长效胰岛素</text><path class="u" d="M387 868H408"/></g>
<g id="n7c"><text x="268" y="879.8" textLength="15" lengthAdjust="spacingAndGlyphs">联合用药</text><path class="u" d="M267 881H284"/></g>
<g id="n7c1"><text x="303" y="875.8" textLength="29" lengthAdjust="spacingAndGlyphs">联合用药原则</text><path class="u" d="M302 877H333"/></g>
<g id="n7c2"><text x="303" y="884.8" textLength="27" lengthAdjust="spacingAndGlyphs">注意事项</text><path class="u" d="M302 886H331"/></g>
<g id="l7j"><text x="350" y="875.8" textLength="102" lengthAdjust="spacingAndGlyphs">小剂量开始，优先选用长效制剂，联合用药，个体化治疗</text><path class="uk" d="M349 877H453"/></g>
<g id="l7k"><text x="347" y="885.8" textLength="161" lengthAdjust="spacingAndGlyphs">注意药物相互作用，定期监测血压、血糖及肝肾功能，及时调整给药方案，提高患者依从性</text><path class="u" d="M346 887H509"/></g>

<!-- Branch 8 -->
<g id="n8"><rect class="B" x="178" y="938" width="37" height="14"/><text class="t1" x="183" y="947" textLength="29" lengthAdjust="spacingAndGlyphs">用药指导服务</text></g>
<g id="n8a"><rect class="b" x="221.5" y="918" width="28" height="7.5"/><text x="223" y="923.8" textLength="25" lengthAdjust="spacingAndGlyphs">用药咨询</text></g>
<g id="n8a1"><rect class="b" x="258.5" y="898" width="13" height="7.5"/><text x="260" y="903.8" textLength="10" lengthAdjust="spacingAndGlyphs">对象</text></g>
<g id="n8a2"><rect class="b" x="258.5" y="912" width="13" height="7.5"/><text x="260" y="917.8" textLength="10" lengthAdjust="spacingAndGlyphs">内容</text></g>
<g id="n8a3"><rect class="b" x="258.5" y="932" width="13" height="7.5"/><text x="260" y="937.8" textLength="10" lengthAdjust="spacingAndGlyphs">方法</text></g>
<g id="l8a"><text x="287" y="903.8" textLength="32" lengthAdjust="spacingAndGlyphs">患者及其家属</text><path class="u" d="M286 905H320"/></g>
<g id="l8b"><text x="287" y="912.8" textLength="31" lengthAdjust="spacingAndGlyphs">正确用药方法</text><path class="u" d="M286 914H319"/></g>
<g id="l8c"><text x="287" y="920.8" textLength="70" lengthAdjust="spacingAndGlyphs">用法用量、不良反应、注意事项</text><path class="u" d="M286 922H358"/></g>
<g id="l8d"><text x="287" y="929.8" textLength="100" lengthAdjust="spacingAndGlyphs">面对面咨询、电话咨询、网络咨询等多种方式</text><path class="u" d="M286 931H388"/></g>
<g id="l8e"><text x="287" y="939.8" textLength="165" lengthAdjust="spacingAndGlyphs">耐心倾听，语言通俗易懂，保护患者隐私，提供书面材料，做好咨询记录，必要时转诊或随</text><text x="287" y="945.8" textLength="9" lengthAdjust="spacingAndGlyphs">访问</text><path class="u" d="M286 947.5H453"/></g>
<g id="n8b"><rect class="b" x="221.5" y="967" width="28" height="7.5"/><text x="223" y="972.8" textLength="25" lengthAdjust="spacingAndGlyphs">用药教育</text></g>
<g id="n8b1"><rect class="b" x="258.5" y="948" width="13" height="7.5"/><text x="260" y="953.8" textLength="10" lengthAdjust="spacingAndGlyphs">对象</text></g>
<g id="n8b2"><rect class="b" x="258.5" y="958" width="13" height="7.5"/><text x="260" y="963.8" textLength="10" lengthAdjust="spacingAndGlyphs">内容</text></g>
<g id="n8b3"><rect class="b" x="256.5" y="968" width="28" height="7.5"/><text x="258" y="973.8" textLength="25" lengthAdjust="spacingAndGlyphs">教育方式</text></g>
<g id="n8b4"><text x="260" y="986.8" textLength="10" lengthAdjust="spacingAndGlyphs">其他</text><path class="u" d="M259 988H271"/></g>
<g id="l8f"><text x="286" y="953.8" textLength="24" lengthAdjust="spacingAndGlyphs">门诊患者等</text><path class="u" d="M285 955H311"/></g>
<g id="l8g"><text x="286" y="963.8" textLength="29" lengthAdjust="spacingAndGlyphs">合理用药知识</text><path class="u" d="M285 965H316"/></g>
<g id="l8h"><text x="293" y="973.8" textLength="39" lengthAdjust="spacingAndGlyphs">口头、书面、示范</text><path class="u" d="M292 975H333"/></g>
<g id="l8i"><text x="285" y="982.8" textLength="34" lengthAdjust="spacingAndGlyphs">特殊剂型的使用</text><path class="u" d="M284 984H320"/></g>
<g id="l8j"><text x="343" y="982.8" textLength="44" lengthAdjust="spacingAndGlyphs">吸入剂、栓剂、滴眼剂</text><path class="u" d="M342 984H388"/></g>
<g id="l8k"><text x="285" y="991.8" textLength="37" lengthAdjust="spacingAndGlyphs">提高患者依从性</text><path class="u" d="M284 993H323"/></g>

<g id="footer">
<text x="97" y="1041" style="font-size:15px;fill:#111"><tspan style="font-family:'Noto Sans CJK SC',sans-serif;font-weight:bold">报名专线：</tspan><tspan style="font-family:'Liberation Serif',serif">400-6300-999</tspan></text>
<text x="396" y="1041" style="font-family:'Liberation Serif',serif;font-size:15px;fill:#111">3</text>
</g>
</svg>
